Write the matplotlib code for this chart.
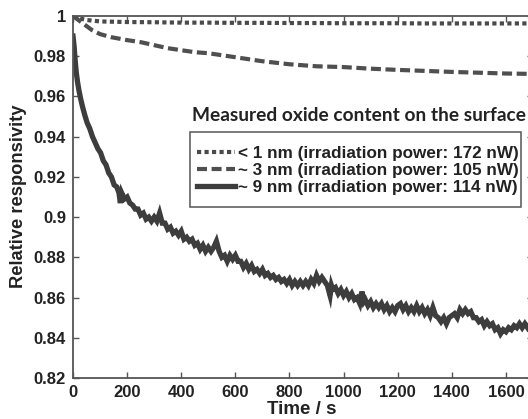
import matplotlib
matplotlib.use("Agg")
import matplotlib.pyplot as plt
from matplotlib.patches import Rectangle

# ---------------- data ----------------
t_dot = [0, 20, 50, 100, 200, 300, 400, 500, 600, 700, 800, 900, 1000, 1100,
         1200, 1300, 1400, 1500, 1600, 1700]
v_dot = [1.000, 0.9990, 0.9980, 0.9973, 0.9970, 0.9969, 0.9967, 0.9967, 0.9966,
         0.9966, 0.9965, 0.9965, 0.9964, 0.9964, 0.9964, 0.9963, 0.9963, 0.9963,
         0.9963, 0.9963]

t_dash = [0, 20, 40, 70, 100, 140, 200, 250, 300, 350, 400, 450, 500, 600, 700,
          800, 900, 1000, 1100, 1200, 1300, 1400, 1500, 1600, 1700]
v_dash = [1.000, 0.998, 0.996, 0.993, 0.991, 0.9895, 0.988, 0.987, 0.9855,
          0.984, 0.983, 0.982, 0.9815, 0.9795, 0.9775, 0.976, 0.9750, 0.9746,
          0.9738, 0.9732, 0.9727, 0.9722, 0.9718, 0.9714, 0.9712]

# (time, responsivity) pairs of the ~9 nm trace
sol_points = [
    (0, 0.990), (4, 0.985), (8, 0.978), (12, 0.972), (17, 0.967), (22, 0.963),
    (28, 0.959), (35, 0.955), (43, 0.951), (52, 0.947), (62, 0.944), (72, 0.940),
    (82, 0.937), (92, 0.934), (102, 0.932), (112, 0.928), (122, 0.926),
    (132, 0.922), (142, 0.920), (152, 0.916), (162, 0.915), (170, 0.912),
    (175, 0.907), (180, 0.912), (190, 0.909), (200, 0.910), (210, 0.907),
    (220, 0.906), (230, 0.904), (240, 0.904), (250, 0.901), (260, 0.902),
    (270, 0.899), (280, 0.900), (290, 0.898), (300, 0.900), (310, 0.898),
    (320, 0.902), (330, 0.897), (340, 0.897), (350, 0.894), (360, 0.895),
    (370, 0.892), (380, 0.893), (390, 0.891), (400, 0.893), (410, 0.889),
    (420, 0.890), (430, 0.888), (440, 0.889), (450, 0.886), (460, 0.887),
    (470, 0.884), (480, 0.886), (490, 0.883), (500, 0.885), (510, 0.883),
    (520, 0.885), (530, 0.888), (540, 0.883), (550, 0.880), (560, 0.881),
    (570, 0.878), (580, 0.881), (590, 0.879), (600, 0.881), (610, 0.878),
    (620, 0.878), (630, 0.875), (640, 0.877), (650, 0.874), (660, 0.876),
    (670, 0.873), (680, 0.874), (690, 0.872), (700, 0.874), (710, 0.871),
    (720, 0.872), (730, 0.870), (740, 0.871), (750, 0.869), (760, 0.870),
    (770, 0.868), (780, 0.869), (790, 0.867), (800, 0.869), (810, 0.866),
    (820, 0.868), (830, 0.866), (840, 0.868), (850, 0.866), (860, 0.868),
    (870, 0.866), (880, 0.869), (890, 0.867), (900, 0.871), (910, 0.868),
    (920, 0.870), (930, 0.868), (940, 0.866), (950, 0.861), (955, 0.866),
    (960, 0.864), (970, 0.865), (980, 0.862), (990, 0.864), (1000, 0.861),
    (1010, 0.863), (1020, 0.860), (1030, 0.862), (1040, 0.859), (1050, 0.860),
    (1060, 0.857), (1068, 0.863), (1075, 0.858), (1080, 0.859), (1090, 0.856),
    (1100, 0.858), (1110, 0.855), (1120, 0.857), (1130, 0.855), (1140, 0.857),
    (1150, 0.854), (1160, 0.856), (1170, 0.853), (1180, 0.855), (1190, 0.853),
    (1200, 0.856), (1210, 0.857), (1220, 0.854), (1230, 0.856), (1240, 0.853),
    (1250, 0.855), (1260, 0.853), (1270, 0.856), (1280, 0.853), (1290, 0.855),
    (1300, 0.852), (1310, 0.854), (1320, 0.851), (1330, 0.855), (1340, 0.851),
    (1350, 0.850), (1360, 0.848), (1370, 0.850), (1380, 0.847), (1390, 0.850),
    (1400, 0.851), (1410, 0.852), (1420, 0.850), (1430, 0.854), (1440, 0.852),
    (1450, 0.854), (1460, 0.852), (1470, 0.853), (1480, 0.850), (1490, 0.850),
    (1500, 0.848), (1510, 0.849), (1520, 0.846), (1530, 0.848), (1540, 0.846),
    (1550, 0.847), (1560, 0.844), (1570, 0.845), (1580, 0.842), (1590, 0.844),
    (1600, 0.843), (1610, 0.845), (1620, 0.844), (1630, 0.846), (1640, 0.845),
    (1650, 0.847), (1660, 0.845), (1670, 0.847), (1680, 0.845), (1690, 0.847),
    (1700, 0.846),
]
t_sol = [p[0] for p in sol_points]
v_sol = [p[1] for p in sol_points]

labels = ["< 1 nm (irradiation power: 172 nW)",
          "~ 3 nm (irradiation power: 105 nW)",
          "~ 9 nm (irradiation power: 114 nW)"]
legend_title = "Measured oxide content on the surface"
x_ticks = [0, 200, 400, 600, 800, 1000, 1200, 1400, 1600]
y_ticks = [0.82, 0.84, 0.86, 0.88, 0.90, 0.92, 0.94, 0.96, 0.98, 1.0]
y_ticklabels = ["0.82", "0.84", "0.86", "0.88", "0.9", "0.92", "0.94", "0.96", "0.98", "1"]

# ---------------- figure ----------------
W, H = 528, 419
fig = plt.figure(figsize=(W / 100, H / 100), dpi=100)
fig.patch.set_facecolor("white")
AX_L, AX_R, AX_T, AX_B = 73, 533, 16, 378
ax = fig.add_axes([AX_L / W, (H - AX_B) / H, (AX_R - AX_L) / W, (AX_B - AX_T) / H])

ax.plot(t_dot, v_dot, color="#4a4a4a", lw=3.0, dashes=(1.0, 0.8),
        dash_capstyle="butt", label=labels[0])
ax.plot(t_dash, v_dash, color="#4f4f4f", lw=3.0, dashes=(2.4, 1.1),
        dash_capstyle="butt", label=labels[1])
ax.plot(t_sol, v_sol, color="#3d3d3d", lw=3.8, solid_joinstyle="miter",
        label=labels[2])

ax.set_xlim(0, 1700)
ax.set_ylim(0.82, 1.0)
ax.set_xticks(x_ticks)
ax.set_yticks(y_ticks)
ax.set_yticklabels(y_ticklabels)

for lab in ax.get_xticklabels() + ax.get_yticklabels():
    lab.set_fontfamily("Liberation Sans")
    lab.set_fontweight("bold")
    lab.set_fontsize(12)
    lab.set_color("#222222")

ax.tick_params(direction="in", length=4, width=1, color="#555555",
               top=True, right=True, pad=5)
for s in ax.spines.values():
    s.set_color("#555555")
    s.set_linewidth(1.3)

ax.set_xlabel("Time / s", fontfamily="Liberation Sans", fontweight="bold",
              fontsize=13.5, color="#222222")
ax.xaxis.set_label_coords((302 - AX_L) / (AX_R - AX_L), -(401 - AX_B) / (AX_B - AX_T))
ax.set_ylabel("Relative responsivity", fontfamily="Liberation Sans",
              fontweight="bold", fontsize=13.2, color="#222222")
ax.yaxis.set_label_coords(-(AX_L - 27) / (AX_R - AX_L), (AX_B - 196) / (AX_B - AX_T))

# legend frame drawn as its own box, legend entries inside it
frame = Rectangle((190 / W, 1 - 207 / H), (521 - 190) / W, (207 - 132) / H,
                  transform=fig.transFigure, facecolor="white",
                  edgecolor="#555555", linewidth=1.1, zorder=4.5, clip_on=False)
ax.add_patch(frame)

leg = ax.legend(loc="upper left", bbox_to_anchor=(197 / W, 1 - 146 / H),
                bbox_transform=fig.transFigure, borderaxespad=0, borderpad=0,
                prop=dict(family="Liberation Sans", weight="bold", size=12.3),
                handlelength=2.2, handletextpad=0.2,
                labelspacing=0.13, frameon=False)
for txt in leg.get_texts():
    txt.set_color("#222222")

fig.text(192 / W, 1 - 115 / H, legend_title, fontfamily="Lato", fontweight="bold",
         fontsize=13.8, color="#222222", va="center", ha="left")

fig.savefig("out.png", dpi=100, facecolor="white")
